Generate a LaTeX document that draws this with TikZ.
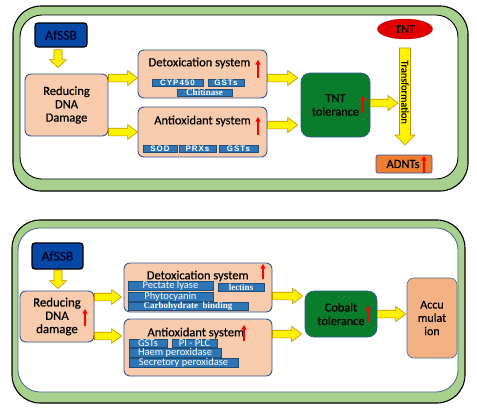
\documentclass[tikz,border=0pt]{standalone}
\usepackage{fontspec}
\setmainfont{Carlito}[FakeBold=0.5]
\newfontfamily\chipcalfont{Carlito}
\newfontfamily\chipsans[LetterSpace=12]{Liberation Sans}
\newfontfamily\chipserif{Liberation Serif}
\usetikzlibrary{calc,arrows.meta,shapes.geometric}
\definecolor{bandgreen}{HTML}{A9D18E}
\definecolor{peach}{HTML}{F8CBAD}
\definecolor{salmon}{HTML}{F4B183}
\definecolor{boxblue}{HTML}{2F5597}
\definecolor{chipblue}{HTML}{2E75B6}
\definecolor{chipedge}{HTML}{1F4E79}
\definecolor{tolgreen}{HTML}{0A7D2C}
\definecolor{ssbblue}{HTML}{0747A6}
\definecolor{yedge}{HTML}{BF9000}
\definecolor{tntred}{HTML}{E00000}
\definecolor{adorange}{HTML}{ED7D31}
\newcommand\harr[5]{%
  \draw[yarr] let \p1=#1, \p2=#2 in (\x1,\y1+#3pt) -- (\x2-#5pt,\y1+#3pt) -- (\x2-#5pt,\y1+#4pt) -- (\x2,\y1) -- (\x2-#5pt,\y1-#4pt) -- (\x2-#5pt,\y1-#3pt) -- (\x1,\y1-#3pt) -- cycle;}
\newcommand\varr[5]{%
  \draw[yarr] let \p1=#1, \p2=#2 in (\x1-#3pt,\y1) -- (\x1-#3pt,\y2+#5pt) -- (\x1-#4pt,\y2+#5pt) -- (\x1,\y2) -- (\x1+#4pt,\y2+#5pt) -- (\x1+#3pt,\y2+#5pt) -- (\x1+#3pt,\y1) -- cycle;}
\begin{document}
\begin{tikzpicture}[x=1pt,y=-1pt,
  band/.style={draw=black, line width=1.1pt, fill=bandgreen},
  panel/.style={draw=black, line width=0.9pt, fill=white},
  box/.style={draw=boxblue, line width=0.9pt, fill=peach, rounded corners=6pt, inner sep=0pt, align=center},
  chip/.style={draw=chipedge, line width=0.4pt, fill=chipblue, text=white, inner sep=0pt, font=\chipsans\bfseries\fontsize{8}{8}\selectfont},
  chipser/.style={chip, font=\chipserif\bfseries\fontsize{9}{9}\selectfont},
  chipcal/.style={chip, font=\chipcalfont\fontsize{10.5}{10.5}\selectfont},
  title/.style={inner sep=0pt, font=\fontsize{12.5}{13}\selectfont},
  tol/.style={draw=boxblue, line width=0.6pt, fill=tolgreen, rounded corners=9pt, inner sep=0pt, align=center, font=\fontsize{12.3}{13.5}\selectfont},
  ssb/.style={draw=black, line width=1.3pt, fill=ssbblue, rounded corners=3pt, inner sep=0pt, text=black!85!blue, font=\fontsize{13.5}{14}\selectfont},
  yarr/.style={draw=yedge, fill=yellow, line width=0.6pt},
  uparr/.style={draw=red, line width=1.6pt, -{Triangle[width=5pt,length=4.5pt]}}]
\useasboundingbox (0,0) rectangle (477,410);
% ---------- top panel ----------
\draw[band, rounded corners=28pt] (13,6) rectangle (468,191);
\draw[panel, rounded corners=22pt] (20,15) rectangle (458,179);
\node[ssb, minimum width=52pt, minimum height=24pt] (ssb1) at (61,35) {AfSSB};
\node[box, minimum width=83pt, minimum height=62pt, font=\fontsize{12.5}{13.3}\selectfont] (red1) at (66.5,105) {Reducing\\DNA\\Damage};
\node[box, minimum width=129pt, minimum height=48pt] (det1) at (202.5,74) {};
\node[title] (det1t) at (199.5,63) {Detoxication system};
\node[chip, minimum width=51pt, minimum height=7.5pt] (c1) at (177.5,82.5) {CYP450};
\node[chip, minimum width=36pt, minimum height=7.5pt] (c2) at (226,82.5) {GSTs};
\node[chipser, minimum width=55pt, minimum height=7.5pt] (c3) at (204.5,92.5) {Chitinase};
\node[box, minimum width=129pt, minimum height=50pt] (ant1) at (202.5,132) {};
\node[title] (ant1t) at (202.5,121) {Antioxidant system};
\node[chip, minimum width=34pt, minimum height=7.5pt] (c4) at (160,148.5) {SOD};
\node[chip, minimum width=37pt, minimum height=7.5pt] (c5) at (197.5,148.5) {PRXs};
\node[chip, minimum width=39pt, minimum height=7.5pt] (c6) at (238.5,148.5) {GSTs};
\node[tol, minimum width=69pt, minimum height=64pt] (tol1) at (335.5,105) {TNT\\tolerance};
\node[draw=tntred!80!black, line width=0.4pt, fill=tntred, ellipse, minimum width=55pt, minimum height=20pt, inner sep=0pt, font=\fontsize{12}{12}\selectfont] (tnt) at (405,29) {TNT};
\node[draw=boxblue, line width=0.6pt, fill=adorange, rounded corners=2pt, minimum width=56pt, minimum height=18pt, inner sep=0pt] (adn) at (404,164) {};
\node[inner sep=0pt, font=\fontsize{12.5}{12.5}\selectfont] (adnt) at (403,164) {ADNTs};
\coordinate (trtop) at (405,48);
\coordinate (trbot) at (405,145);
% block arrows top
\varr{($(ssb1.south)+(-3,2)$)}{($(red1.north)+(-3,-6)$)}{4}{8.5}{8}
\harr{(red1.east |- 0,78)}{(det1.west |- 0,78)}{3.8}{7.5}{10}
\harr{(red1.east |- 0,132)}{(ant1.west |- 0,132)}{3.8}{7.5}{10}
\harr{(det1.east |- 0,78)}{($(tol1.west |- 0,78)+(-3,0)$)}{3.8}{7.5}{10}
\harr{(ant1.east |- 0,125)}{($(tol1.west |- 0,125)+(-3,0)$)}{3.8}{7.5}{10}
\harr{(tol1.east |- 0,103)}{(398,103)}{3.8}{7.5}{10}
\varr{(trtop)}{(trbot)}{5.5}{10}{10}
\node[rotate=-90, inner sep=0pt, font=\fontsize{10.3}{11}\selectfont] (trt) at (405,92) {Transformation};
% red indicator arrows top
\draw[uparr] (258,78) -- (258,60);
\draw[uparr] (258,135) -- (258,117);
\draw[uparr] (363,113) -- (363,96);
\draw[uparr] (424,173) -- (424,156);
% ---------- bottom panel ----------
\draw[band, rounded corners=28pt] (12,220) rectangle (465,403);
\draw[draw=boxblue!70!gray, line width=0.8pt, fill=white, rounded corners=22pt] (18,228) rectangle (458,392);
\node[ssb, minimum width=51pt, minimum height=26pt] (ssb2) at (57.5,256) {AfSSB};
\node[box, minimum width=74pt, minimum height=51pt, font=\fontsize{12.8}{13.3}\selectfont] (red2) at (57,316.5) {Reducing\\DNA\\damage};
\node[box, minimum width=148pt, minimum height=49pt] (det2) at (198,287.5) {};
\node[title] (det2t) at (197.7,276) {Detoxication system};
\node[chipcal, minimum width=85pt, minimum height=8pt] (d1) at (170.5,286) {Pectate lyase};
\node[chipser, minimum width=46pt, minimum height=8pt] (d2) at (241,287) {lectins};
\node[chipcal, minimum width=85pt, minimum height=7.5pt] (d3) at (170.5,296.5) {Phytocyanin};
\node[chipser, minimum width=120pt, minimum height=8pt] (d4) at (188,306) {Carbohydrate\ \ binding};
\node[box, minimum width=148pt, minimum height=57pt] (ant2) at (198,347.5) {};
\node[title] (ant2t) at (195.8,333) {Antioxidant system};
\node[chipcal, minimum width=38pt, minimum height=8pt] (e1) at (148,343) {GSTs};
\node[chipcal, minimum width=45pt, minimum height=8pt] (e2) at (194.5,343) {PI - PLC};
\node[chipcal, minimum width=92pt, minimum height=8pt] (e3) at (175,353) {Haem peroxidase};
\node[chipcal, minimum width=109pt, minimum height=8pt] (e4) at (183.5,363) {Secretory peroxidase};
\node[tol, minimum width=72pt, minimum height=46pt] (tol2) at (341,314) {Cobalt\\tolerance};
\node[draw=boxblue!60!gray, line width=0.6pt, fill=salmon, rounded corners=7pt, minimum width=50pt, minimum height=80pt, inner sep=0pt, align=center, font=\fontsize{12}{13.3}\selectfont] (acc) at (432,318) {Accu\\mulat\\ion};
% block arrows bottom
\varr{($(ssb2.south)+(0.5,1)$)}{($(red2.north)+(0.5,-2)$)}{4}{8.5}{8}
\harr{(red2.east |- 0,297)}{($(det2.west |- 0,297)+(-2,0)$)}{3.8}{7.5}{10}
\harr{(red2.east |- 0,336)}{($(ant2.west |- 0,336)+(-2,0)$)}{3.8}{7.5}{10}
\harr{(det2.east |- 0,296)}{($(tol2.west |- 0,296)+(-2,0)$)}{3.8}{7.5}{10}
\harr{(ant2.east |- 0,334)}{($(tol2.west |- 0,334)+(-3,0)$)}{3.8}{7.5}{10}
\harr{(tol2.east |- 0,314)}{($(acc.west |- 0,314)+(-1,0)$)}{3.8}{7.5}{10}
% red indicator arrows bottom
\draw[uparr] (85,326) -- (85,309);
\draw[uparr] (263,279) -- (263,264);
\draw[uparr] (244,341) -- (244,325);
\draw[uparr] (368,322) -- (368,306);
\end{tikzpicture}
\end{document}
